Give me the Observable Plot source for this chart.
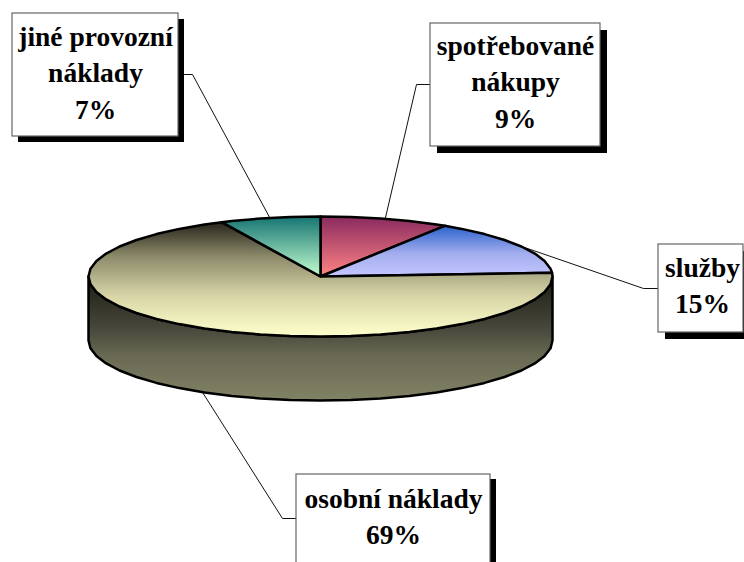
<!DOCTYPE html>
<html><head><meta charset="utf-8">
<script src="https://cdn.jsdelivr.net/npm/d3@7"></script>
<script src="https://cdn.jsdelivr.net/npm/@observablehq/plot@0.6"></script>
<style>html,body{margin:0;padding:0;background:#fff;overflow:hidden}svg{display:block}</style>
</head><body><div id="chart"></div>
<script>
const categories = ["spotřebované nákupy", "služby", "osobní náklady", "jiné provozní náklady"];
const values = [9, 15, 69, 7];
const labelTexts = ["spotřebované\nnákupy\n9%", "služby\n15%", "osobní náklady\n69%", "jiné provozní\nnáklady\n7%"];
const gradients = [
  [[0, "#8a2a60"], [1, "#ff8484"]],
  [[0, "#2a62cc"], [0.55, "#a4aeee"], [1, "#c4c6ff"]],
  [[0, "#26241a"], [0.3, "#8c8a6a"], [0.65, "#d8d6a8"], [1, "#ffffcc"]],
  [[0, "#167472"], [1, "#c4ffd0"]]
];

// layout of the drawing (not data)
const W = 744, H = 562;
const pie = {cx: 320, cy: 276, rx: 232, ry: 60, depth: 64};
const boxes = [
  {x1: 430, x2: 600, y1: 23, y2: 146, dx: 7, dy: 7, tx: 515, ty: 79, elbow: [416, 84], side: "left", ly: 84},
  {x1: 658, x2: 743, y1: 244, y2: 332, dx: 7, dy: 7, tx: 702, ty: 283, elbow: [643, 288], side: "left", ly: 288},
  {x1: 296, x2: 490, y1: 474, y2: 572, dx: 6, dy: 5, tx: 393, ty: 514, elbow: [282, 518], side: "left", ly: 518},
  {x1: 12, x2: 178, y1: 13, y2: 136, dx: 6, dy: 6, tx: 95, ty: 70, elbow: [192, 74], side: "right", ly: 74}
];

const rad = d => d * Math.PI / 180;
const rim = (deg, drop = 0) => ({
  x: pie.cx + pie.rx * Math.sin(rad(deg)),
  y: pie.cy - pie.ry * Math.cos(rad(deg)) + drop
});
function arc(a0, a1, drop = 0) {
  const pts = [a0];
  for (let a = Math.ceil(a0 / 7.5) * 7.5; a < a1; a += 7.5) if (a > a0) pts.push(a);
  pts.push(a1);
  return pts.map(a => rim(a, drop));
}

// cumulative slice angles, clockwise from 12 o'clock
const total = d3.sum(values);
let acc = 0;
const slices = values.map((v, i) => {
  const start = acc / total * 360; acc += v;
  const end = acc / total * 360;
  return {i, name: categories[i], start, end, mid: (start + end) / 2};
});

const defs = () => {
  const d = d3.create("svg:defs");
  const add = (id, stops) => {
    const g = d.append("linearGradient").attr("id", id).attr("x1", 0).attr("x2", 0).attr("y1", 0).attr("y2", 1);
    stops.forEach(([o, c]) => g.append("stop").attr("offset", o).attr("stop-color", c));
  };
  gradients.forEach((s, i) => add("slice" + i, s));
  add("sidegrad", [[0, "#1c1c12"], [0.4, "#45453a"], [0.65, "#6a6a54"], [1, "#828266"]]);
  return d.node();
};

const xy = {x: "x", y: "y"};
const side = [...arc(90, 270), ...arc(90, 270, pie.depth).reverse()];

const marks = [defs];

// leader lines start on the rim at each slice's middle angle
slices.forEach((s, i) => {
  const b = boxes[i];
  const drop = s.mid > 90 && s.mid < 270 ? pie.depth : 0;
  const edge = b.side === "left" ? b.x1 : b.x2 + b.dx;
  marks.push(Plot.line([rim(s.mid, drop), {x: b.elbow[0], y: b.elbow[1]}, {x: edge, y: b.ly}],
    {...xy, stroke: "#111", strokeWidth: 1}));
});

marks.push(Plot.line(side, {...xy, curve: "linear-closed", fill: "url(#sidegrad)", stroke: "#000", strokeWidth: 2.5}));
slices.forEach(s => {
  marks.push(Plot.line([{x: pie.cx, y: pie.cy}, ...arc(s.start, s.end)],
    {...xy, curve: "linear-closed", fill: `url(#slice${s.i})`, stroke: "#000", strokeWidth: 2.5, strokeLinejoin: "round"}));
});

const labels = boxes.map((b, i) => ({...b, text: labelTexts[i]}));
marks.push(
  Plot.rect(labels, {x1: d => d.x1 + d.dx, x2: d => d.x2 + d.dx, y1: d => d.y1 + d.dy, y2: d => d.y2 + d.dy, fill: "#000"}),
  Plot.rect(labels, {x1: "x1", x2: "x2", y1: "y1", y2: "y2", fill: "#fff", stroke: "#666", strokeWidth: 1.2}),
  Plot.text(labels, {x: "tx", y: "ty", text: "text", fontFamily: "Liberation Serif", fontWeight: "bold", fontSize: 27.5, lineHeight: 1.33, fill: "#000"})
);

const plot = Plot.plot({
  width: W, height: H, margin: 0,
  x: {domain: [0, W], range: [0, W], axis: null},
  y: {domain: [0, H], range: [0, H], axis: null},
  style: {background: "#fff"},
  marks
});
document.getElementById("chart").append(plot);
</script></body></html>
